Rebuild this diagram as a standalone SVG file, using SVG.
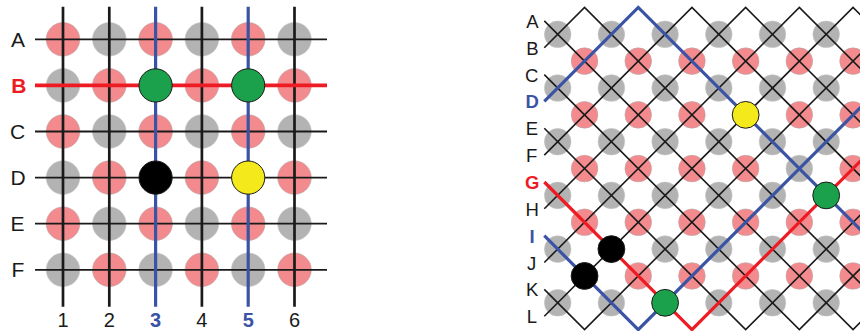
<svg xmlns="http://www.w3.org/2000/svg" width="860" height="331" viewBox="0 0 860 331">
  <style>
    .lbl { font-family: "Liberation Sans", Arial, sans-serif; fill: #1a1a1a; text-anchor: middle; }
    .L { font-size: 21px; }
    .N { font-size: 20px; }
    .R { font-size: 18.5px; }
    .red { fill: #ed1c24; font-weight: bold; }
    .blue { fill: #3a53a4; font-weight: bold; }
    .pk { fill: #f38b8e; stroke: #b9a2a2; stroke-width: 0.6; }
    .gy { fill: #b3b3b3; stroke: #c4c4c4; stroke-width: 0.6; }
    .blk { stroke: #1a1a1a; fill: none; }
    .ln-red { stroke: #ed1c24; fill: none; }
    .ln-blue { stroke: #3a53a4; fill: none; }
    .node { stroke: #1a1a1a; stroke-width: 1; }
    .zz { stroke-width: 1.6; stroke-linejoin: miter; stroke-miterlimit: 10; }
    .zzc { stroke-width: 3.2; stroke-linejoin: miter; stroke-miterlimit: 10; }
  </style>

  <!-- ===== Square lattice (left) ===== -->
  <g id="left-dots">
    <!-- row A -->
    <circle class="pk" cx="63" cy="39.3" r="16.8"/>
    <circle class="gy" cx="109.3" cy="39.3" r="16.8"/>
    <circle class="pk" cx="155.6" cy="39.3" r="16.8"/>
    <circle class="gy" cx="201.9" cy="39.3" r="16.8"/>
    <circle class="pk" cx="248.2" cy="39.3" r="16.8"/>
    <circle class="gy" cx="294.5" cy="39.3" r="16.8"/>
    <!-- row B -->
    <circle class="gy" cx="63" cy="85.4" r="16.8"/>
    <circle class="pk" cx="109.3" cy="85.4" r="16.8"/>
    <circle class="pk" cx="201.9" cy="85.4" r="16.8"/>
    <circle class="pk" cx="294.5" cy="85.4" r="16.8"/>
    <!-- row C -->
    <circle class="pk" cx="63" cy="131.5" r="16.8"/>
    <circle class="gy" cx="109.3" cy="131.5" r="16.8"/>
    <circle class="pk" cx="155.6" cy="131.5" r="16.8"/>
    <circle class="gy" cx="201.9" cy="131.5" r="16.8"/>
    <circle class="pk" cx="248.2" cy="131.5" r="16.8"/>
    <circle class="gy" cx="294.5" cy="131.5" r="16.8"/>
    <!-- row D -->
    <circle class="gy" cx="63" cy="177.6" r="16.8"/>
    <circle class="pk" cx="109.3" cy="177.6" r="16.8"/>
    <circle class="pk" cx="201.9" cy="177.6" r="16.8"/>
    <circle class="pk" cx="294.5" cy="177.6" r="16.8"/>
    <!-- row E -->
    <circle class="pk" cx="63" cy="223.7" r="16.8"/>
    <circle class="gy" cx="109.3" cy="223.7" r="16.8"/>
    <circle class="pk" cx="155.6" cy="223.7" r="16.8"/>
    <circle class="gy" cx="201.9" cy="223.7" r="16.8"/>
    <circle class="pk" cx="248.2" cy="223.7" r="16.8"/>
    <circle class="gy" cx="294.5" cy="223.7" r="16.8"/>
    <!-- row F -->
    <circle class="gy" cx="63" cy="269.8" r="16.8"/>
    <circle class="pk" cx="109.3" cy="269.8" r="16.8"/>
    <circle class="gy" cx="155.6" cy="269.8" r="16.8"/>
    <circle class="pk" cx="201.9" cy="269.8" r="16.8"/>
    <circle class="gy" cx="248.2" cy="269.8" r="16.8"/>
    <circle class="pk" cx="294.5" cy="269.8" r="16.8"/>
  </g>

  <g id="left-lines">
    <g class="blk" stroke-width="1.8">
      <line x1="35" y1="39.3" x2="327" y2="39.3"/>
      <line x1="35" y1="131.5" x2="327" y2="131.5"/>
      <line x1="35" y1="177.6" x2="327" y2="177.6"/>
      <line x1="35" y1="223.7" x2="327" y2="223.7"/>
      <line x1="35" y1="269.8" x2="327" y2="269.8"/>
    </g>
    <g class="blk" stroke-width="2.7">
      <line x1="63" y1="6.7" x2="63" y2="306.7"/>
      <line x1="109.3" y1="6.7" x2="109.3" y2="306.7"/>
      <line x1="201.9" y1="6.7" x2="201.9" y2="306.7"/>
      <line x1="294.5" y1="6.7" x2="294.5" y2="306.7"/>
    </g>
    <g class="ln-blue" stroke-width="3.2">
      <line x1="155.6" y1="6.7" x2="155.6" y2="306.7"/>
      <line x1="248.2" y1="6.7" x2="248.2" y2="306.7"/>
    </g>
    <line class="ln-red" stroke-width="3.8" x1="35" y1="85.4" x2="327" y2="85.4"/>
  </g>

  <g id="left-B3"><circle class="node" cx="155.6" cy="85.4" r="16.6" fill="#1ba14b"/></g>
  <g id="left-B5"><circle class="node" cx="248.2" cy="85.4" r="16.6" fill="#1ba14b"/></g>
  <g id="left-D3"><circle class="node" cx="155.6" cy="177.6" r="16.6" fill="#000"/></g>
  <g id="left-D5"><circle class="node" cx="248.2" cy="177.6" r="16.6" fill="#f4ea1b"/></g>

  <g id="left-labels">
    <text class="lbl L" x="18" y="46.8">A</text>
    <text class="lbl L red" x="18.8" y="92.9">B</text>
    <text class="lbl L" x="17.5" y="139">C</text>
    <text class="lbl L" x="18" y="185.1">D</text>
    <text class="lbl L" x="17.5" y="231.2">E</text>
    <text class="lbl L" x="17.9" y="277.3">F</text>
    <text class="lbl N" x="63" y="327">1</text>
    <text class="lbl N" x="109.3" y="327">2</text>
    <text class="lbl N blue" x="155.6" y="327">3</text>
    <text class="lbl N" x="201.9" y="327">4</text>
    <text class="lbl N blue" x="248.2" y="327">5</text>
    <text class="lbl N" x="294.5" y="327">6</text>
  </g>

  <!-- ===== Diagonal lattice (right) ===== -->
  <g id="right-dots">
    <!-- grey rows -->
    <circle class="gy" cx="557.7" cy="34.3" r="13.3"/>
    <circle class="gy" cx="611.4" cy="34.3" r="13.3"/>
    <circle class="gy" cx="665.1" cy="34.3" r="13.3"/>
    <circle class="gy" cx="718.8" cy="34.3" r="13.3"/>
    <circle class="gy" cx="772.5" cy="34.3" r="13.3"/>
    <circle class="gy" cx="826.2" cy="34.3" r="13.3"/>

    <circle class="gy" cx="557.7" cy="88" r="13.3"/>
    <circle class="gy" cx="611.4" cy="88" r="13.3"/>
    <circle class="gy" cx="665.1" cy="88" r="13.3"/>
    <circle class="gy" cx="718.8" cy="88" r="13.3"/>
    <circle class="gy" cx="772.5" cy="88" r="13.3"/>
    <circle class="gy" cx="826.2" cy="88" r="13.3"/>

    <circle class="gy" cx="557.7" cy="141.7" r="13.3"/>
    <circle class="gy" cx="611.4" cy="141.7" r="13.3"/>
    <circle class="gy" cx="665.1" cy="141.7" r="13.3"/>
    <circle class="gy" cx="718.8" cy="141.7" r="13.3"/>
    <circle class="gy" cx="772.5" cy="141.7" r="13.3"/>
    <circle class="gy" cx="826.2" cy="141.7" r="13.3"/>

    <circle class="gy" cx="557.7" cy="195.4" r="13.3"/>
    <circle class="gy" cx="611.4" cy="195.4" r="13.3"/>
    <circle class="gy" cx="665.1" cy="195.4" r="13.3"/>
    <circle class="gy" cx="718.8" cy="195.4" r="13.3"/>
    <circle class="gy" cx="772.5" cy="195.4" r="13.3"/>

    <circle class="gy" cx="557.7" cy="249.1" r="13.3"/>
    <circle class="gy" cx="665.1" cy="249.1" r="13.3"/>
    <circle class="gy" cx="718.8" cy="249.1" r="13.3"/>
    <circle class="gy" cx="772.5" cy="249.1" r="13.3"/>
    <circle class="gy" cx="826.2" cy="249.1" r="13.3"/>

    <circle class="gy" cx="557.7" cy="302.8" r="13.3"/>
    <circle class="gy" cx="611.4" cy="302.8" r="13.3"/>
    <circle class="gy" cx="718.8" cy="302.8" r="13.3"/>
    <circle class="gy" cx="772.5" cy="302.8" r="13.3"/>
    <circle class="gy" cx="826.2" cy="302.8" r="13.3"/>

    <!-- pink rows -->
    <circle class="pk" cx="584.55" cy="61.15" r="13.3"/>
    <circle class="pk" cx="638.25" cy="61.15" r="13.3"/>
    <circle class="pk" cx="691.95" cy="61.15" r="13.3"/>
    <circle class="pk" cx="745.65" cy="61.15" r="13.3"/>
    <circle class="pk" cx="799.35" cy="61.15" r="13.3"/>
    <circle class="pk" cx="853.05" cy="61.15" r="13.3"/>

    <circle class="pk" cx="584.55" cy="114.85" r="13.3"/>
    <circle class="pk" cx="638.25" cy="114.85" r="13.3"/>
    <circle class="pk" cx="691.95" cy="114.85" r="13.3"/>
    <circle class="pk" cx="799.35" cy="114.85" r="13.3"/>
    <circle class="pk" cx="853.05" cy="114.85" r="13.3"/>

    <circle class="pk" cx="584.55" cy="168.55" r="13.3"/>
    <circle class="pk" cx="638.25" cy="168.55" r="13.3"/>
    <circle class="pk" cx="691.95" cy="168.55" r="13.3"/>
    <circle class="pk" cx="745.65" cy="168.55" r="13.3"/>
    <circle class="gy" cx="799.35" cy="168.55" r="13.3"/>
    <circle class="pk" cx="853.05" cy="168.55" r="13.3"/>

    <circle class="pk" cx="584.55" cy="222.25" r="13.3"/>
    <circle class="pk" cx="638.25" cy="222.25" r="13.3"/>
    <circle class="pk" cx="691.95" cy="222.25" r="13.3"/>
    <circle class="pk" cx="745.65" cy="222.25" r="13.3"/>
    <circle class="pk" cx="799.35" cy="222.25" r="13.3"/>
    <circle class="pk" cx="853.05" cy="222.25" r="13.3"/>

    <circle class="pk" cx="638.25" cy="275.95" r="13.3"/>
    <circle class="pk" cx="691.95" cy="275.95" r="13.3"/>
    <circle class="pk" cx="745.65" cy="275.95" r="13.3"/>
    <circle class="pk" cx="799.35" cy="275.95" r="13.3"/>
    <circle class="pk" cx="853.05" cy="275.95" r="13.3"/>
  </g>

  <g id="right-lines">
    <g class="blk zz">
      <path d="M544.3,20.9 L853.05,329.65 L879.9,302.8"/>
      <path d="M544.3,47.7 L584.55,7.45 L879.9,302.8"/>
      <path d="M544.3,74.6 L799.35,329.65 L879.9,249.1"/>
      <path d="M544.3,128.3 L745.65,329.65 L879.9,195.4"/>
      <path d="M544.3,155.1 L691.95,7.45 L879.9,195.4"/>
      <path d="M544.3,208.8 L745.65,7.45 L879.9,141.7"/>
      <path d="M544.3,262.5 L799.35,7.45 L879.9,88"/>
      <path d="M544.3,289.4 L584.55,329.65 L879.9,34.3"/>
      <path d="M544.3,316.2 L853.05,7.45 L879.9,34.3"/>
    </g>
    <path class="ln-blue zzc" d="M544.3,101.4 L638.25,7.45 L879.9,249.1"/>
    <path class="ln-blue zzc" d="M544.3,235.7 L638.25,329.65 L879.9,88"/>
    <path class="ln-red zzc" d="M544.3,182 L691.95,329.65 L879.9,141.7"/>
  </g>

  <g id="right-D7"><circle class="node" cx="745.65" cy="114.85" r="13.4" fill="#f4ea1b"/></g>
  <g id="right-G10"><circle class="node" cx="826.2" cy="195.4" r="13.4" fill="#1ba14b"/></g>
  <g id="right-I2"><circle class="node" cx="611.4" cy="249.1" r="13.4" fill="#000"/></g>
  <g id="right-J1"><circle class="node" cx="584.55" cy="275.95" r="13.4" fill="#000"/></g>
  <g id="right-L4"><circle class="node" cx="665.1" cy="302.8" r="13.4" fill="#1ba14b"/></g>

  <g id="right-labels">
    <text class="lbl R" x="532.5" y="28.3">A</text>
    <text class="lbl R" x="532.3" y="54.7">B</text>
    <text class="lbl R" x="531.7" y="81.6">C</text>
    <text class="lbl R blue" x="532.2" y="108.4">D</text>
    <text class="lbl R" x="531.8" y="135.3">E</text>
    <text class="lbl R" x="531.7" y="162.1">F</text>
    <text class="lbl R red" x="532.3" y="189">G</text>
    <text class="lbl R" x="532.2" y="215.8">H</text>
    <text class="lbl R blue" x="532" y="242.7">I</text>
    <text class="lbl R" x="531.7" y="269.5">J</text>
    <text class="lbl R" x="532.2" y="296.4">K</text>
    <text class="lbl R" x="532" y="323.2">L</text>
  </g>
</svg>
